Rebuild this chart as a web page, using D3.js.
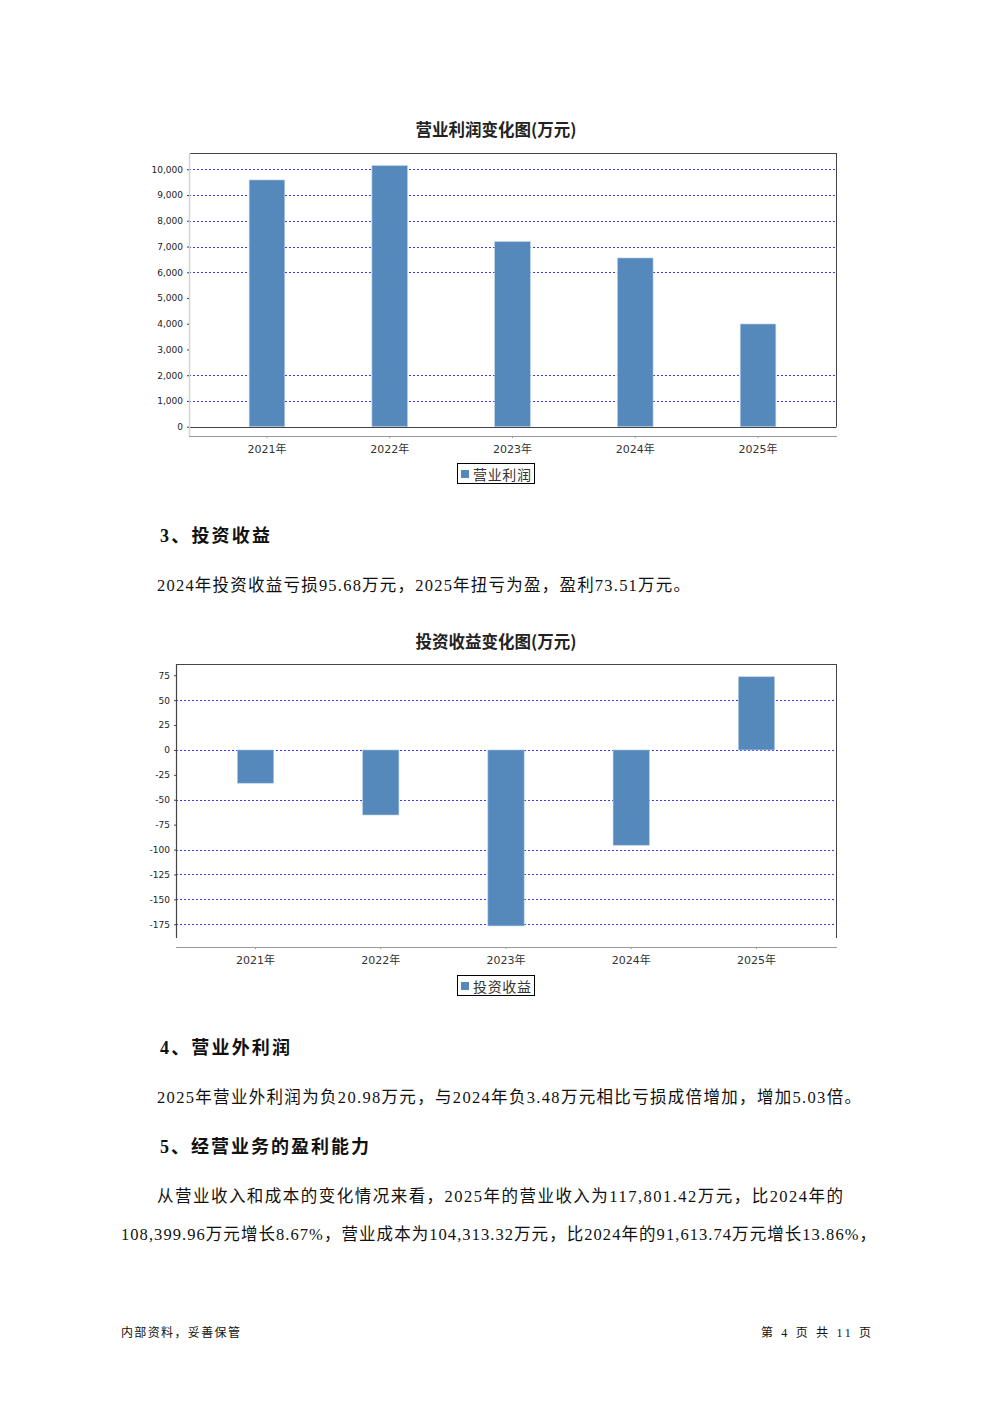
<!DOCTYPE html>
<html><head><meta charset="utf-8">
<script src="https://cdn.jsdelivr.net/npm/d3@7"></script>
<style>body{margin:0;background:#fff}svg{display:block}</style>
</head><body>
<script>
// ---- data ----
const years = ["2021年", "2022年", "2023年", "2024年", "2025年"];
const operatingProfit = [9585, 10140, 7190, 6555, 3990];
const investmentIncome = [-33.4, -65.3, -176.7, -95.68, 73.51];
const profitTicks = [0, 1000, 2000, 3000, 4000, 5000, 6000, 7000, 8000, 9000, 10000];
const profitGrid = [1000, 2000, 6000, 7000, 8000, 9000, 10000];
const incomeTicks = [75, 50, 25, 0, -25, -50, -75, -100, -125, -150, -175];
const incomeGrid = [50, 0, -50, -100, -125, -150, -175];
const chartTitles = ["营业利润变化图(万元)", "投资收益变化图(万元)"];
const seriesNames = ["营业利润", "投资收益"];

const W = 992, H = 1403;
const BAR = "#5589bb", GRID = "#3a3aff", DARK = "#444";
const svg = d3.select("body").append("svg").attr("width", W).attr("height", H)
  .style("background", "#fff");
const CJK = "'Liberation Serif','Times New Roman','DejaVu Serif','Noto Sans CJK SC',serif";
const SANS = "'DejaVu Sans','Noto Sans CJK SC',sans-serif";

function drawChart(o) {
  const g = svg.append("g");
  const x = d3.scaleBand().domain(o.cats).range([o.left, o.right])
    .paddingInner(0.71).paddingOuter(0.49);
  const y = d3.scaleLinear().domain(o.domain).range([o.bottom, o.top]);

  // title
  g.append("text").attr("x", 496).attr("y", o.titleY).attr("text-anchor", "middle")
    .attr("dominant-baseline", "central").attr("font-family", "'Noto Sans CJK SC',sans-serif")
    .attr("font-weight", "bold").attr("font-size", 16.5).attr("fill", "#222").text(o.title);

  // gridlines
  g.selectAll(".grid").data(o.grid).join("line")
    .attr("x1", o.left).attr("x2", o.right)
    .attr("y1", d => Math.round(y(d)) + 0.5).attr("y2", d => Math.round(y(d)) + 0.5)
    .attr("stroke", GRID).attr("stroke-width", 1).attr("stroke-dasharray", "2,2");

  // bars
  g.selectAll(".bar").data(o.values).join("rect")
    .attr("x", (d, i) => x(o.cats[i]))
    .attr("width", x.bandwidth())
    .attr("y", d => Math.min(y(d), y(0)))
    .attr("height", d => Math.abs(y(d) - y(0)))
    .attr("fill", BAR).attr("stroke", "#b9cfe6").attr("stroke-width", 0.6);

  // frame
  g.append("line").attr("x1", o.left).attr("x2", o.right + 0.5).attr("y1", o.top + 0.5).attr("y2", o.top + 0.5)
    .attr("stroke", DARK);
  g.append("line").attr("x1", o.right + 0.5).attr("x2", o.right + 0.5).attr("y1", o.top).attr("y2", o.bottom)
    .attr("stroke", DARK);
  if (o.bottomLine) {
    g.append("line").attr("x1", o.left).attr("x2", o.right + 0.5).attr("y1", Math.round(o.bottom) + 0.5)
      .attr("y2", Math.round(o.bottom) + 0.5).attr("stroke", DARK);
  }
  g.append("line").attr("x1", o.left + 0.5).attr("x2", o.left + 0.5).attr("y1", o.top)
    .attr("y2", o.leftEnd).attr("stroke", o.leftColor).attr("stroke-width", o.leftWidth);

  // y axis
  const ya = g.append("g").attr("transform", `translate(${o.left},0)`)
    .call(d3.axisLeft(y).tickValues(o.ticks).tickSize(2).tickPadding(4).tickFormat(o.fmt));
  ya.select(".domain").remove();
  ya.selectAll(".tick line").attr("stroke", DARK);
  ya.selectAll(".tick text").attr("font-family", SANS).attr("font-size", 9).attr("fill", "#222");

  // category axis
  const xa = g.append("g").attr("transform", `translate(0,${o.axisY})`)
    .call(d3.axisBottom(x).tickSize(2).tickPadding(7));
  xa.select(".domain").attr("d", `M${o.left},0.5H${o.right + 1}`).attr("stroke", "#999");
  xa.selectAll(".tick line").attr("stroke", "#999");
  xa.selectAll(".tick text").attr("font-family", SANS).attr("font-size", 11).attr("fill", "#333");

  // legend
  const lg = g.append("g");
  lg.append("rect").attr("x", 457.5).attr("y", o.legendY + 0.5).attr("width", 77).attr("height", 20)
    .attr("fill", "#fff").attr("stroke", "#000");
  lg.append("rect").attr("x", 461).attr("y", o.legendY + 7).attr("width", 8).attr("height", 8).attr("fill", BAR);
  lg.append("text").attr("x", 473).attr("y", o.legendY + 10.5).attr("dominant-baseline", "central")
    .attr("font-family", "'Noto Sans CJK SC',sans-serif").attr("font-size", 14).attr("fill", "#333")
    .attr("textLength", 58).attr("lengthAdjust", "spacing")
    .text(o.series);
}

drawChart({
  cats: years, values: operatingProfit, left: 189, right: 836, top: 153, bottom: 426.7,
  domain: [0, 10633], ticks: profitTicks, grid: profitGrid, fmt: d3.format(","),
  axisY: 436, titleY: 129, legendY: 463, title: chartTitles[0], series: seriesNames[0],
  bottomLine: true, leftEnd: 436, leftColor: "#d4d4d4", leftWidth: 1.5
});
drawChart({
  cats: years, values: investmentIncome, left: 176, right: 836, top: 664, bottom: 938,
  domain: [-188.8, 86.3], ticks: incomeTicks, grid: incomeGrid, fmt: d => String(d),
  axisY: 947, titleY: 641, legendY: 975, title: chartTitles[1], series: seriesNames[1],
  bottomLine: false, leftEnd: 938, leftColor: DARK, leftWidth: 1.2
});

// ---- document text ----
const textLines = [
  {t: "3、投资收益", x: 160, y: 536, w: 110, bold: true, size: 18},
  {t: "2024年投资收益亏损95.68万元，2025年扭亏为盈，盈利73.51万元。", x: 157, y: 585, w: 533, size: 16.5},
  {t: "4、营业外利润", x: 160, y: 1048, w: 130, bold: true, size: 18},
  {t: "2025年营业外利润为负20.98万元，与2024年负3.48万元相比亏损成倍增加，增加5.03倍。", x: 157, y: 1097, w: 704, size: 16.5},
  {t: "5、经营业务的盈利能力", x: 160, y: 1147, w: 209, bold: true, size: 18},
  {t: "从营业收入和成本的变化情况来看，2025年的营业收入为117,801.42万元，比2024年的", x: 157, y: 1196, w: 686, size: 16.5},
  {t: "108,399.96万元增长8.67%，营业成本为104,313.32万元，比2024年的91,613.74万元增长13.86%，", x: 121, y: 1234, w: 755, size: 16.5},
  {t: "内部资料，妥善保管", x: 121, y: 1333, w: 119, size: 12},
  {t: "第 4 页   共 11 页", x: 761, y: 1333, w: 110, size: 12}
];
svg.selectAll(".doc").data(textLines).join("text")
  .attr("x", d => d.x).attr("y", d => d.y)
  .attr("dominant-baseline", "central")
  .attr("font-family", CJK).attr("font-size", d => d.size)
  .attr("font-weight", d => d.bold ? "bold" : "normal")
  .attr("fill", "#111")
  .attr("textLength", d => d.w).attr("lengthAdjust", "spacing")
  .text(d => d.t);
</script>
</body></html>
